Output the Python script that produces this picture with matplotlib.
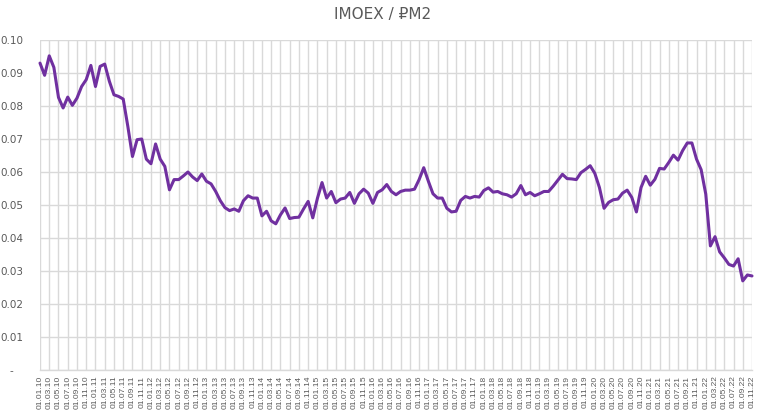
import numpy as np
import pandas as pd
import matplotlib
matplotlib.use("Agg")
import matplotlib.pyplot as plt
from matplotlib.ticker import FuncFormatter

# ------------------------------------------------------------
# Dati: IMOEX / ₽M2, mensile da 01.2010 a 11.2022
# ------------------------------------------------------------
title = "IMOEX / ₽M2"
start_month = "2010-01-01"

values = [
    0.0930, 0.0893, 0.0952, 0.0917, 0.0826, 0.0794, 0.0827, 0.0802, 0.0824, 0.0859,
    0.0880, 0.0923, 0.0859, 0.0920, 0.0927, 0.0875, 0.0834, 0.0829, 0.0821, 0.0738,
    0.0647, 0.0698, 0.0700, 0.0639, 0.0625, 0.0685, 0.0639, 0.0617, 0.0546, 0.0577,
    0.0577, 0.0588, 0.0600, 0.0585, 0.0574, 0.0594, 0.0572, 0.0564, 0.0541, 0.0513,
    0.0492, 0.0483, 0.0488, 0.0481, 0.0513, 0.0528, 0.0521, 0.0521, 0.0467, 0.0481,
    0.0452, 0.0443, 0.0470, 0.0491, 0.0459, 0.0462, 0.0463, 0.0488, 0.0511, 0.0461,
    0.0520, 0.0568, 0.0521, 0.0541, 0.0507, 0.0518, 0.0521, 0.0538, 0.0505, 0.0534,
    0.0548, 0.0536, 0.0505, 0.0538, 0.0546, 0.0562, 0.0541, 0.0531, 0.0541, 0.0545,
    0.0545, 0.0548, 0.0577, 0.0613, 0.0572, 0.0534, 0.0521, 0.0521, 0.0490, 0.0479,
    0.0481, 0.0514, 0.0526, 0.0521, 0.0526, 0.0524, 0.0544, 0.0552, 0.0539, 0.0541,
    0.0534, 0.0531, 0.0524, 0.0534, 0.0559, 0.0531, 0.0538, 0.0528, 0.0534, 0.0541,
    0.0541, 0.0557, 0.0575, 0.0593, 0.0580, 0.0579, 0.0577, 0.0598, 0.0608, 0.0619,
    0.0596, 0.0553, 0.0490, 0.0508, 0.0516, 0.0518, 0.0536, 0.0545, 0.0523, 0.0479,
    0.0553, 0.0587, 0.0560, 0.0578, 0.0611, 0.0609, 0.0629, 0.0651, 0.0636, 0.0665,
    0.0688, 0.0688, 0.0639, 0.0607, 0.0533, 0.0376, 0.0404, 0.0358, 0.0340, 0.0320,
    0.0315, 0.0337, 0.0270, 0.0288, 0.0285,
]

dates = pd.date_range(start_month, periods=len(values), freq="MS")
date_labels = [d.strftime("%d.%m.%y") for d in dates]

y_ticks = [i / 100 for i in range(11)]

text_color = "#595959"
grid_color = "#d9d9d9"
line_color = "#7030a0"

# ------------------------------------------------------------
# Grafico
# ------------------------------------------------------------
fig = plt.figure(figsize=(7.65, 4.17), dpi=100)
ax = fig.add_axes([40 / 765, 1 - 370 / 417, 712 / 765, 330 / 417])

x = np.arange(len(values))
ax.plot(x, values, color=line_color, linewidth=2.2, solid_joinstyle="round",
        solid_capstyle="round", clip_on=False, zorder=3)

ax.set_xlim(0, len(values) - 1)
ax.set_ylim(0, 0.10)

ax.set_yticks(y_ticks)
ax.yaxis.set_major_formatter(FuncFormatter(lambda v, p: "-   " if abs(v) < 1e-9 else f"{v:.2f}"))

ax.set_xticks(x[::2])
ax.set_xticklabels(date_labels[::2], rotation=90, fontsize=6,
                   fontfamily="Liberation Sans", color=text_color)

ax.tick_params(axis="y", length=0, pad=12, labelsize=7.5, labelcolor=text_color)
ax.tick_params(axis="x", length=0, pad=4)

ax.grid(True, color=grid_color, linewidth=1.0, zorder=0)
ax.set_axisbelow(True)
for side in ["top", "right", "left"]:
    ax.spines[side].set_visible(False)
ax.spines["bottom"].set_color(grid_color)
ax.spines["bottom"].set_linewidth(1.0)

fig.text(0.5, 1 - 15 / 417, title, ha="center", va="center", fontsize=11,
         color=text_color, family=["DejaVu Sans"])

fig.savefig("out.png", dpi=100)
plt.close(fig)
